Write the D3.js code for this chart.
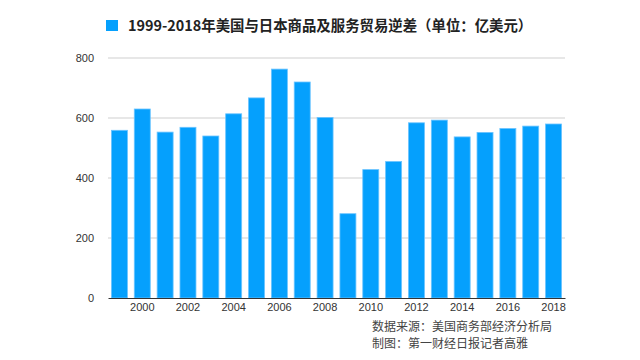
<!DOCTYPE html>
<html><head><meta charset="utf-8">
<script src="https://cdn.jsdelivr.net/npm/d3@7"></script>
<style>body{margin:0;background:#fff}svg{display:block}</style>
</head><body>
<svg id="c" width="640" height="360"></svg>
<script>
const years = [1999,2000,2001,2002,2003,2004,2005,2006,2007,2008,2009,2010,2011,2012,2013,2014,2015,2016,2017,2018];
const deficit = [559,630,553,569,540,614,667,763,720,602,281,428,455,584,593,537,552,565,573,580];
const yTicks = [0,200,400,600,800];
const xTickYears = [2000,2002,2004,2006,2008,2010,2012,2014,2016,2018];
const legendLabel = "1999-2018年美国与日本商品及服务贸易逆差（单位：亿美元）";
const sourceLines = ["数据来源：美国商务部经济分析局","制图：第一财经日报记者高雅"];

const svg = d3.select("#c");
const m = {l:108, r:565, t:58, b:298};
const x = d3.scaleBand().domain(years).range([m.l, m.r]).paddingInner(0.3).paddingOuter(0.15);
const y = d3.scaleLinear().domain([0,800]).range([m.b, m.t]);
const font = "'Liberation Sans', Arial, sans-serif";

// grid
svg.append("g").selectAll("line").data(yTicks.filter(d=>d>0)).join("line")
  .attr("x1", m.l).attr("x2", m.r).attr("y1", d=>y(d)).attr("y2", d=>y(d))
  .attr("stroke", "#cfcfcf").attr("stroke-width", 1);

// y axis labels
const ya = svg.append("g").attr("transform", `translate(${m.l},0)`)
  .call(d3.axisLeft(y).tickValues(yTicks).tickSize(0).tickPadding(14));
ya.select(".domain").remove();
ya.selectAll("text").attr("font-family", font).attr("font-size", 11).attr("fill", "#333");

// bars
svg.append("g").selectAll("rect").data(years).join("rect")
  .attr("x", d=>x(d)).attr("width", x.bandwidth())
  .attr("y", (d,i)=>y(deficit[i])).attr("height", (d,i)=>y(0)-y(deficit[i]))
  .attr("fill", "#05a0fd").attr("stroke", "#6cc4ff").attr("stroke-width", 0.8);

// x axis
const xa = svg.append("g").attr("transform", `translate(0,${m.b})`)
  .call(d3.axisBottom(x).tickValues(xTickYears).tickSize(0).tickPadding(5).tickSizeOuter(0));
xa.select(".domain").attr("stroke", "#333").attr("stroke-width", 1.2);
xa.selectAll("text").attr("font-family", font).attr("font-size", 11).attr("fill", "#333");

// legend
svg.append("rect").attr("x", 106).attr("y", 20).attr("width", 12).attr("height", 11).attr("fill", "#05a0fd");
svg.append("text").attr("x", 128).attr("y", 30.5).text(legendLabel)
  .attr("font-family", "'Noto Sans CJK SC', sans-serif").attr("font-weight", "bold")
  .attr("font-size", 14.4).attr("fill", "#222");

// source
svg.append("g").selectAll("text").data(sourceLines).join("text")
  .attr("x", 372).attr("y", (d,i)=>330.5 + i*17.5).text(d=>d)
  .attr("font-family", "'Noto Sans CJK SC', sans-serif").attr("font-size", 12).attr("fill", "#444");
</script>
</body></html>
